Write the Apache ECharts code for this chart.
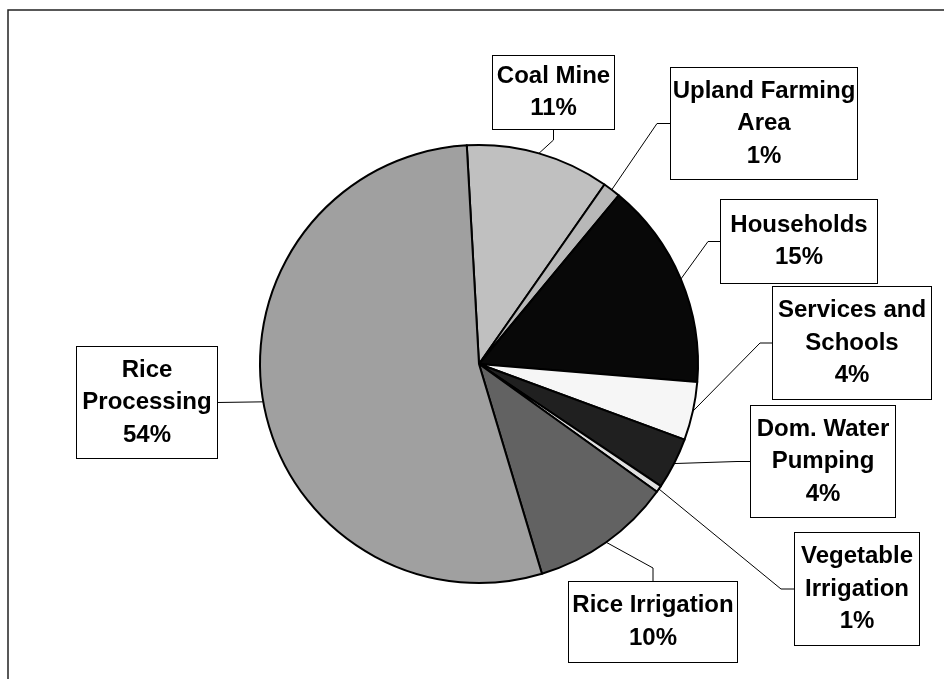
<!DOCTYPE html>
<html>
<head>
<meta charset="utf-8">
<script src="https://cdn.jsdelivr.net/npm/echarts@6/dist/echarts.min.js"></script>
<style>html,body{margin:0;padding:0;background:#fff}#c{width:944px;height:679px}</style>
</head>
<body>
<div id="c"></div>
<script>
// ---- data ----
const categories = ['Coal Mine', 'Upland Farming\nArea', 'Households', 'Services and\nSchools', 'Dom. Water\nPumping', 'Vegetable\nIrrigation', 'Rice Irrigation', 'Rice\nProcessing'];
const shares = [10.6, 1.3, 15.3, 4.3, 3.8, 0.5, 10.45, 53.75];

// ---- styles / layout (not data) ----
const sliceColors = ['#c0c0c0', '#b8b8b8', '#080808', '#f6f6f6', '#202020', '#e0e0e0', '#626262', '#a0a0a0'];
const labelBoxes = [
  {x: 493, y: 56,  w: 121, h: 73,  side: 'bottom', e: 11},
  {x: 671, y: 68,  w: 186, h: 111, side: 'left',   e: 14},
  {x: 721, y: 200, w: 156, h: 83,  side: 'left',   e: 13},
  {x: 773, y: 287, w: 158, h: 112, side: 'left',   e: 13},
  {x: 751, y: 406, w: 144, h: 111, side: 'left',   e: 14},
  {x: 795, y: 533, w: 124, h: 112, side: 'left',   e: 14},
  {x: 569, y: 582, w: 168, h: 80,  side: 'top',    e: 14},
  {x: 77,  y: 347, w: 140, h: 111, side: 'right',  e: 0}
];

const chart = echarts.init(document.getElementById('c'), null, {renderer: 'canvas'});

const seriesData = categories.map((name, i) => ({
  name: name,
  value: shares[i],
  itemStyle: {color: sliceColors[i]},
  label: {width: labelBoxes[i].w, height: labelBoxes[i].h}
}));

chart.setOption({
  backgroundColor: '#ffffff',
  animation: false,
  graphic: [{
    type: 'rect', z: -10, silent: true,
    shape: {x: 8, y: 10, width: 1000, height: 1000},
    style: {fill: 'none', stroke: '#222', lineWidth: 1.5}
  }],
  series: [{
    type: 'pie',
    center: [479, 364],
    radius: 219,
    startAngle: 93.2,
    clockwise: true,
    avoidLabelOverlap: false,
    data: seriesData,
    itemStyle: {borderColor: '#000', borderWidth: 2},
    emphasis: {disabled: true},
    label: {
      show: true,
      position: 'outside',
      formatter: p => p.name + '\n' + Math.round(p.value) + '%',
      color: '#000',
      fontFamily: '"Liberation Sans", Arial, sans-serif',
      fontWeight: 'bold',
      fontSize: 24,
      lineHeight: 32.5,
      backgroundColor: '#fff',
      borderColor: '#000',
      borderWidth: 1,
      padding: 0,
      align: 'center',
      overflow: 'none'
    },
    labelLine: {show: true, length: 10, length2: 10, smooth: false, lineStyle: {color: '#000', width: 1}},
    labelLayout: function (p) {
      const b = labelBoxes[p.dataIndex];
      const cx = b.x + b.w / 2, cy = b.y + b.h / 2;
      let start, elbow;
      if (b.side === 'left') { start = [b.x, cy]; elbow = [b.x - b.e, cy]; }
      else if (b.side === 'right') { start = [b.x + b.w, cy]; elbow = [b.x + b.w + b.e, cy]; }
      else if (b.side === 'top') { start = [cx, b.y]; elbow = [cx, b.y - b.e]; }
      else { start = [cx, b.y + b.h]; elbow = [cx, b.y + b.h + b.e]; }
      const res = {x: cx, y: cy, align: 'center', verticalAlign: 'middle'};
      if (p.labelLinePoints && p.labelLinePoints[0]) {
        res.labelLinePoints = [p.labelLinePoints[0].slice ? p.labelLinePoints[0].slice() : p.labelLinePoints[0], elbow, start];
      }
      return res;
    }
  }]
});
</script>
</body>
</html>
